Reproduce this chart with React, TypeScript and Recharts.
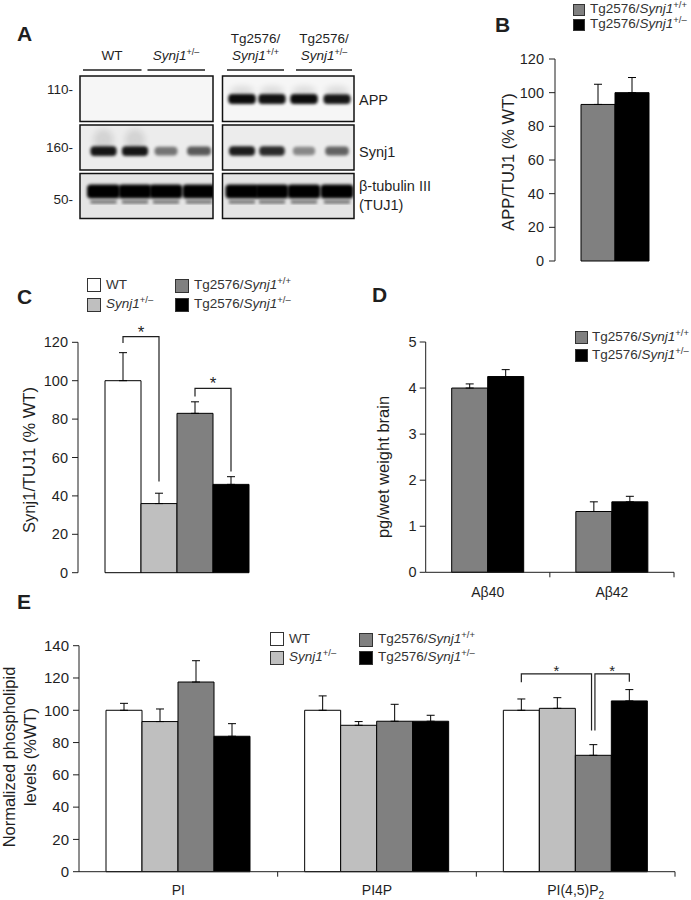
import React from 'react'
import { BarChart, Bar, XAxis, YAxis, ErrorBar, LabelList } from 'recharts'

const FONT = '"Liberation Sans", Arial, Helvetica, sans-serif'
const INK = '#1f1f1f'

// genotypes shared by all panels
const genotypes = ['WT', 'Synj1+/-', 'Tg2576/Synj1+/+', 'Tg2576/Synj1+/-']
const genotypeKeys = ['wt', 'het', 'tgWt', 'tgHet']
const genotypeFills = ['#ffffff', '#bfbfbf', '#808080', '#000000']

// A - western blot, band intensity per lane (2 lanes per genotype)
const blotGroups = ['WT', 'Synj1+/-', 'Tg2576/Synj1+/+', 'Tg2576/Synj1+/-']
const blotMarkers = ['110-', '160-', '50-']
const blotProbes = ['APP', 'Synj1', 'β-tubulin III']
const appBands = [0, 0, 0, 0, 0.95, 0.92, 0.95, 0.9]
const synj1Bands = [0.9, 0.9, 0.5, 0.62, 0.88, 0.82, 0.42, 0.58]
const tuj1Bands = [1, 1, 1, 1, 1, 1, 1, 1]

// B - APP/TUJ1
const appMeans = [93, 100]
const appErrs = [12, 9]
const pctTicks = [0, 20, 40, 60, 80, 100, 120]

// C - Synj1/TUJ1
const synj1Means = [100, 36, 83, 46]
const synj1Errs = [14.6, 5.4, 6, 4]

// D - Abeta ELISA
const abCategories = ['Aβ40', 'Aβ42']
const abTgWt = [4.0, 1.32]
const abTgWtErr = [0.09, 0.21]
const abTgHet = [4.25, 1.53]
const abTgHetErr = [0.15, 0.12]
const abTicks = [0, 1, 2, 3, 4, 5]

// E - phospholipids
const lipidCategories = ['PI', 'PI4P', 'PI(4,5)P2']
const lipidWt = [100, 100, 100]
const lipidWtErr = [4.3, 8.9, 7]
const lipidHet = [93, 90.7, 101.2]
const lipidHetErr = [7.8, 2.3, 6.6]
const lipidTgWt = [117.5, 93.2, 72.1]
const lipidTgWtErr = [13.2, 10.5, 6.6]
const lipidTgHet = [83.9, 93.2, 105.8]
const lipidTgHetErr = [7.8, 3.7, 7]
const lipidTicks = [0, 20, 40, 60, 80, 100, 120, 140]

const bData = [{ cat: 'APP', tgWt: appMeans[0], tgWtErr: [0, appErrs[0]], tgHet: appMeans[1], tgHetErr: [0, appErrs[1]] }]
const cRow: any = { cat: 'Synj1' }
genotypeKeys.forEach((k, i) => {
    cRow[k] = synj1Means[i]
    cRow[k + 'Err'] = [0, synj1Errs[i]]
})
const cData = [cRow]
const dData = abCategories.map((c, i) => ({
    cat: c, tgWt: abTgWt[i], tgWtErr: [0, abTgWtErr[i]], tgHet: abTgHet[i], tgHetErr: [0, abTgHetErr[i]]
}))
const eData = lipidCategories.map((c, i) => ({
    cat: c,
    wt: lipidWt[i], wtErr: [0, lipidWtErr[i]],
    het: lipidHet[i], hetErr: [0, lipidHetErr[i]],
    tgWt: lipidTgWt[i], tgWtErr: [0, lipidTgWtErr[i]],
    tgHet: lipidTgHet[i], tgHetErr: [0, lipidTgHetErr[i]],
}))

// significance brackets, in data units, attached to the left bar of each pair
type Bracket = { cat: number; span: number; level: number; leftEnd: number; rightEnd: number; dxL?: number; dxR?: number; star: number; starDy: number }
const cBracketsWt: Bracket[] = [{ cat: 0, span: 1, level: 123, leftEnd: 119.7, rightEnd: 47.5, star: 17, starDy: 1 }]
const cBracketsTg: Bracket[] = [{ cat: 0, span: 1, level: 96, leftEnd: 91.8, rightEnd: 52.7, star: 17, starDy: 1 }]
const eBracketsWt: Bracket[] = [{ cat: 2, span: 2, level: 122.5, leftEnd: 117.3, rightEnd: 87.4, dxR: -1.8, star: 15, starDy: 2 }]
const eBracketsTg: Bracket[] = [{ cat: 2, span: 1, level: 122.5, leftEnd: 87.4, rightEnd: 117.6, dxL: 1.6, star: 15, starDy: 2 }]

const bracketLabel = (list: Bracket[]) => (props: any) => {
    const vb = props.viewBox ?? props
    const x = Number(vb.x), y = Number(vb.y), w = Number(vb.width), h = Number(vb.height)
    const v = Array.isArray(props.value) ? props.value[props.value.length - 1] : Number(props.value)
    const items = list.filter(b => b.cat === props.index)
    if (!items.length || !v || !isFinite(h)) return null
    // pixel per unit taken from the bar the library drew
    const perUnit = h / v
    const base = y + h
    const py = (val: number) => base - val * perUnit
    return (
        <g>
            {items.map((b, i) => {
                const x1 = x + w / 2 + (b.dxL ?? 0)
                const x2 = x + w / 2 + b.span * w + (b.dxR ?? 0)
                const yl = py(b.level)
                return (
                    <g key={i}>
                        <polyline
                            points={`${x1},${py(b.leftEnd)} ${x1},${yl} ${x2},${yl} ${x2},${py(b.rightEnd)}`}
                            fill="none" stroke={INK} strokeWidth={1.2}
                        />
                        <text x={(x1 + x2) / 2} y={yl + b.starDy} textAnchor="middle" fontSize={b.star} fontFamily={FONT} fill={INK}>*</text>
                    </g>
                )
            })}
        </g>
    )
}

function Genotype({ name }: { name: string }) {
    const m = /^(Tg2576\/)?Synj1(\+\/[+-])$/.exec(name)
    if (!m) return <>{name}</>
    return (
        <>
            {m[1] ?? ''}<i>Synj1</i>
            <span style={{ fontSize: '0.7em', position: 'relative', top: '-0.5em' }}>{m[2].replace('-', '–')}</span>
        </>
    )
}

function Swatch({ left, top, size, gap, fontSize, index }: any) {
    return (
        <div style={{ position: 'absolute', left, top, display: 'flex', alignItems: 'center', whiteSpace: 'nowrap' }}>
            <div style={{ width: size, height: size, boxSizing: 'border-box', border: '1px solid #333', background: genotypeFills[index] }} />
            <span style={{ marginLeft: gap, fontSize, lineHeight: `${size}px`, color: '#333' }}>
                <Genotype name={genotypes[index]} />
            </span>
        </div>
    )
}

function Letter({ left, top, children }: any) {
    return <div style={{ position: 'absolute', left, top, fontSize: 21, fontWeight: 'bold', lineHeight: 1 }}>{children}</div>
}

function VLabel({ cx, cy, size, children }: any) {
    return (
        <div style={{
            position: 'absolute', left: cx, top: cy, transform: 'translate(-50%, -50%) rotate(-90deg)',
            fontSize: size, whiteSpace: 'nowrap', lineHeight: '21px', textAlign: 'center'
        }}>{children}</div>
    )
}

const CategoryTick = (props: any) => {
    const { x, y, payload, halfBand, labelDy } = props
    const hb = payload && payload.offset > 0 ? payload.offset : halfBand
    const value = String(payload.value)
    const sub = /^(.*P)2$/.exec(value)
    return (
        <g>
            <line x1={x + hb} x2={x + hb} y1={y} y2={y + 5} stroke={INK} strokeWidth={1} />
            <text x={x} y={y + labelDy} textAnchor="middle" fontSize={14} fontFamily={FONT} fill={INK}>
                {sub ? <>{sub[1]}<tspan fontSize={10} dy={4}>2</tspan></> : value}
            </text>
        </g>
    )
}

const yTick = { fontSize: 14.5, fill: INK, fontFamily: FONT }

function BlotPanel() {
    const lanes = [103.5, 135, 166, 199, 242, 272, 304, 337]
    const boxes = [{ x: 80, w: 133 }, { x: 222.5, w: 131.5 }]
    const rows = [
        { y: 76, h: 45.5, bg: '#f6f6f6', bandY: 99, bandH: 10, bandW: 28, bands: appBands },
        { y: 125, h: 45, bg: '#ececec', bandY: 151, bandH: 10, bandW: 27, bands: synj1Bands },
        { y: 173.5, h: 45, bg: '#e4e4e4', bandY: 191.5, bandH: 14, bandW: 33, bands: tuj1Bands },
    ]
    const groupCx = [112, 176, 255.5, 324]
    const groupLines = [[83, 141.5], [147.5, 205], [227, 284], [296, 352]]
    const markerY = [93.5, 151.5, 204]
    const probeY = [104.5, 156.5]
    return (
        <svg width={460} height={230} style={{ position: 'absolute', left: 0, top: 0 }} fontFamily={FONT}>
            <defs>
                <filter id="blur" x="-20%" y="-50%" width="140%" height="200%">
                    <feGaussianBlur stdDeviation="1.4" />
                </filter>
                <filter id="smear" x="-50%" y="-50%" width="200%" height="200%">
                    <feGaussianBlur stdDeviation="3" />
                </filter>
                <clipPath id="lclip"><rect x={80} y={70} width={133} height={150} /></clipPath>
                <clipPath id="rclip"><rect x={222.5} y={70} width={131.5} height={150} /></clipPath>
            </defs>
            {blotGroups.map((g, i) => {
                const m = /^(Tg2576\/)?Synj1(\+\/[+-])$/.exec(g)
                return (
                    <g key={g}>
                        {m && m[1] && <text x={groupCx[i]} y={43} textAnchor="middle" fontSize={13.5} fill={INK}>Tg2576/</text>}
                        <text x={groupCx[i]} y={60} textAnchor="middle" fontSize={13.5} fill={INK}>
                            {m ? <><tspan fontStyle="italic">Synj1</tspan><tspan fontSize={9} dy={-5}>{m[2].replace('-', '–')}</tspan></> : g}
                        </text>
                        <line x1={groupLines[i][0]} x2={groupLines[i][1]} y1={70} y2={70} stroke={INK} strokeWidth={1.5} />
                    </g>
                )
            })}
            {rows.map((r, ri) => (
                <g key={ri}>
                    {boxes.map((b, bi) => (
                        <rect key={bi} x={b.x} y={r.y} width={b.w} height={r.h} fill={r.bg} />
                    ))}
                    {ri === 1 && [0, 1].map(l => (
                        <ellipse key={'s' + l} cx={lanes[l]} cy={140} rx={10} ry={11} fill="#000" opacity={0.1} filter="url(#smear)" />
                    ))}
                    {ri === 0 && [4, 5, 6, 7].map(l => (
                        <ellipse key={'h' + l} cx={lanes[l]} cy={91} rx={12} ry={5} fill="#000" opacity={0.1} filter="url(#smear)" />
                    ))}
                    {r.bands.map((v, l) => v > 0 && (
                        <g key={l} clipPath={l < 4 ? 'url(#lclip)' : 'url(#rclip)'}>
                            <rect
                                x={lanes[l] - (r.bandW * (0.7 + 0.3 * v)) / 2} y={r.bandY - (r.bandH * (0.75 + 0.25 * v)) / 2}
                                width={r.bandW * (0.7 + 0.3 * v)} height={r.bandH * (0.75 + 0.25 * v)}
                                rx={4} fill="#000" opacity={v} filter="url(#blur)"
                            />
                            {ri === 2 && (
                                <rect x={lanes[l] - 13} y={200.5} width={26} height={3} fill="#000" opacity={0.55} filter="url(#blur)" />
                            )}
                        </g>
                    ))}
                    {boxes.map((b, bi) => (
                        <rect key={'o' + bi} x={b.x} y={r.y} width={b.w} height={r.h} fill="none" stroke="#111" strokeWidth={1.5} />
                    ))}
                </g>
            ))}
            {blotMarkers.map((m, i) => (
                <text key={m} x={73} y={markerY[i]} textAnchor="end" fontSize={13.5} fill={INK}>{m}</text>
            ))}
            {blotProbes.slice(0, 2).map((p, i) => (
                <text key={p} x={359} y={probeY[i]} fontSize={14.5} fill={INK}>{p}</text>
            ))}
            <text x={359} y={191} fontSize={14.5} fill={INK}>{blotProbes[2]}</text>
            <text x={359} y={210} fontSize={14.5} fill={INK}>(TUJ1)</text>
        </svg>
    )
}

export default function App() {
    const barStroke = { stroke: '#000', strokeWidth: 1 }
    return (
        <div style={{ position: 'absolute', left: 0, top: 0, width: 691, height: 900, background: '#fff', fontFamily: FONT, color: INK, overflow: 'hidden' }}>
            <BlotPanel />

            {/* B */}
            <div style={{ position: 'absolute', left: 460, top: 40 }}>
                <BarChart width={231} height={240} data={bData} margin={{ top: 19, right: 16, bottom: 19, left: 0 }} barGap={0} barSize={34}>
                    <XAxis dataKey="cat" tick={false} tickLine={false} height={0} axisLine={{ stroke: INK }} />
                    <YAxis width={95} domain={[0, 120]} ticks={pctTicks} interval={0} tickSize={6} tickMargin={5}
                        axisLine={{ stroke: INK }} tickLine={{ stroke: INK }} tick={yTick} />
                    <Bar dataKey="tgWt" fill={genotypeFills[2]} {...barStroke} isAnimationActive={false}>
                        <ErrorBar dataKey="tgWtErr" width={4} stroke="#000" strokeWidth={1} direction="y" />
                    </Bar>
                    <Bar dataKey="tgHet" fill={genotypeFills[3]} {...barStroke} isAnimationActive={false}>
                        <ErrorBar dataKey="tgHetErr" width={4} stroke="#000" strokeWidth={1} direction="y" />
                    </Bar>
                </BarChart>
            </div>

            {/* C */}
            <div style={{ position: 'absolute', left: 0, top: 320 }}>
                <BarChart width={290} height={280} data={cData} margin={{ top: 22.3, right: 15, bottom: 27.3, left: 0 }} barGap={0} barSize={36}>
                    <XAxis dataKey="cat" tick={false} tickLine={false} height={0} axisLine={{ stroke: INK }} />
                    <YAxis width={78} domain={[0, 120]} ticks={pctTicks} interval={0} tickSize={6} tickMargin={4}
                        axisLine={{ stroke: INK }} tickLine={{ stroke: INK }} tick={yTick} />
                    {genotypeKeys.map((k, i) => (
                        <Bar key={k} dataKey={k} fill={genotypeFills[i]} {...barStroke} isAnimationActive={false}>
                            <ErrorBar dataKey={k + 'Err'} width={4} stroke="#000" strokeWidth={1} direction="y" />
                            {k === 'wt' && <LabelList content={bracketLabel(cBracketsWt)} />}
                            {k === 'tgWt' && <LabelList content={bracketLabel(cBracketsTg)} />}
                        </Bar>
                    ))}
                </BarChart>
            </div>

            {/* D */}
            <div style={{ position: 'absolute', left: 330, top: 320 }}>
                <BarChart width={361} height={290} data={dData} margin={{ top: 22, right: 17, bottom: 7.7, left: 0 }} barGap={0} barSize={36}>
                    <XAxis dataKey="cat" interval={0} tickLine={false} tickSize={0} tickMargin={0} height={30} axisLine={{ stroke: INK }}
                        tick={(p: any) => <CategoryTick {...p} halfBand={62} labelDy={24.5} />} />
                    <YAxis width={95.7} domain={[0, 5]} ticks={abTicks} interval={0} tickSize={6} tickMargin={3}
                        axisLine={{ stroke: INK }} tickLine={{ stroke: INK }} tick={yTick} />
                    <Bar dataKey="tgWt" fill={genotypeFills[2]} {...barStroke} isAnimationActive={false}>
                        <ErrorBar dataKey="tgWtErr" width={4} stroke="#000" strokeWidth={1} direction="y" />
                    </Bar>
                    <Bar dataKey="tgHet" fill={genotypeFills[3]} {...barStroke} isAnimationActive={false}>
                        <ErrorBar dataKey="tgHetErr" width={4} stroke="#000" strokeWidth={1} direction="y" />
                    </Bar>
                </BarChart>
            </div>

            {/* E */}
            <div style={{ position: 'absolute', left: 0, top: 620 }}>
                <BarChart width={691} height={280} data={eData} margin={{ top: 25.7, right: 16, bottom: 0.3, left: 0 }} barGap={0} barSize={36}>
                    <XAxis dataKey="cat" interval={0} tickLine={false} tickSize={0} tickMargin={0} height={28} axisLine={{ stroke: INK }}
                        tick={(p: any) => <CategoryTick {...p} halfBand={99.3} labelDy={23.5} />} />
                    <YAxis width={79} domain={[0, 140]} ticks={lipidTicks} interval={0} tickSize={6} tickMargin={4}
                        axisLine={{ stroke: INK }} tickLine={{ stroke: INK }} tick={{ ...yTick, fontSize: 15 }} />
                    {genotypeKeys.map((k, i) => (
                        <Bar key={k} dataKey={k} fill={genotypeFills[i]} {...barStroke} isAnimationActive={false}>
                            <ErrorBar dataKey={k + 'Err'} width={4} stroke="#000" strokeWidth={1} direction="y" />
                            {k === 'wt' && <LabelList content={bracketLabel(eBracketsWt)} />}
                            {k === 'tgWt' && <LabelList content={bracketLabel(eBracketsTg)} />}
                        </Bar>
                    ))}
                </BarChart>
            </div>

            {/* axis titles */}
            <VLabel cx={507.5} cy={161.5} size={16.5}>APP/TUJ1 (% WT)</VLabel>
            <VLabel cx={29} cy={460} size={16.5}>Synj1/TUJ1 (% WT)</VLabel>
            <VLabel cx={383} cy={467} size={16.5}>pg/wet weight brain</VLabel>
            <VLabel cx={19.5} cy={757} size={16.5}>Normalized phospholipid<br />levels (%WT)</VLabel>

            {/* legends */}
            <Swatch left={573} top={3} size={12} gap={5} fontSize={13.5} index={2} />
            <Swatch left={573} top={18} size={12} gap={5} fontSize={13.5} index={3} />

            <Swatch left={87} top={278} size={14} gap={5} fontSize={13.5} index={0} />
            <Swatch left={87} top={297} size={14} gap={5} fontSize={13.5} index={1} />
            <Swatch left={175} top={278} size={14} gap={5} fontSize={13.5} index={2} />
            <Swatch left={175} top={297} size={14} gap={5} fontSize={13.5} index={3} />

            <Swatch left={575} top={330} size={13} gap={4} fontSize={13.5} index={2} />
            <Swatch left={575} top={348} size={13} gap={4} fontSize={13.5} index={3} />

            <Swatch left={270} top={632} size={14} gap={5} fontSize={13.5} index={0} />
            <Swatch left={270} top={650} size={14} gap={5} fontSize={13.5} index={1} />
            <Swatch left={359} top={632} size={14} gap={5} fontSize={13.5} index={2} />
            <Swatch left={359} top={650} size={14} gap={5} fontSize={13.5} index={3} />

            {/* panel letters */}
            <Letter left={17} top={23}>A</Letter>
            <Letter left={495} top={14}>B</Letter>
            <Letter left={17} top={286}>C</Letter>
            <Letter left={372} top={284}>D</Letter>
            <Letter left={17} top={591}>E</Letter>
        </div>
    )
}
